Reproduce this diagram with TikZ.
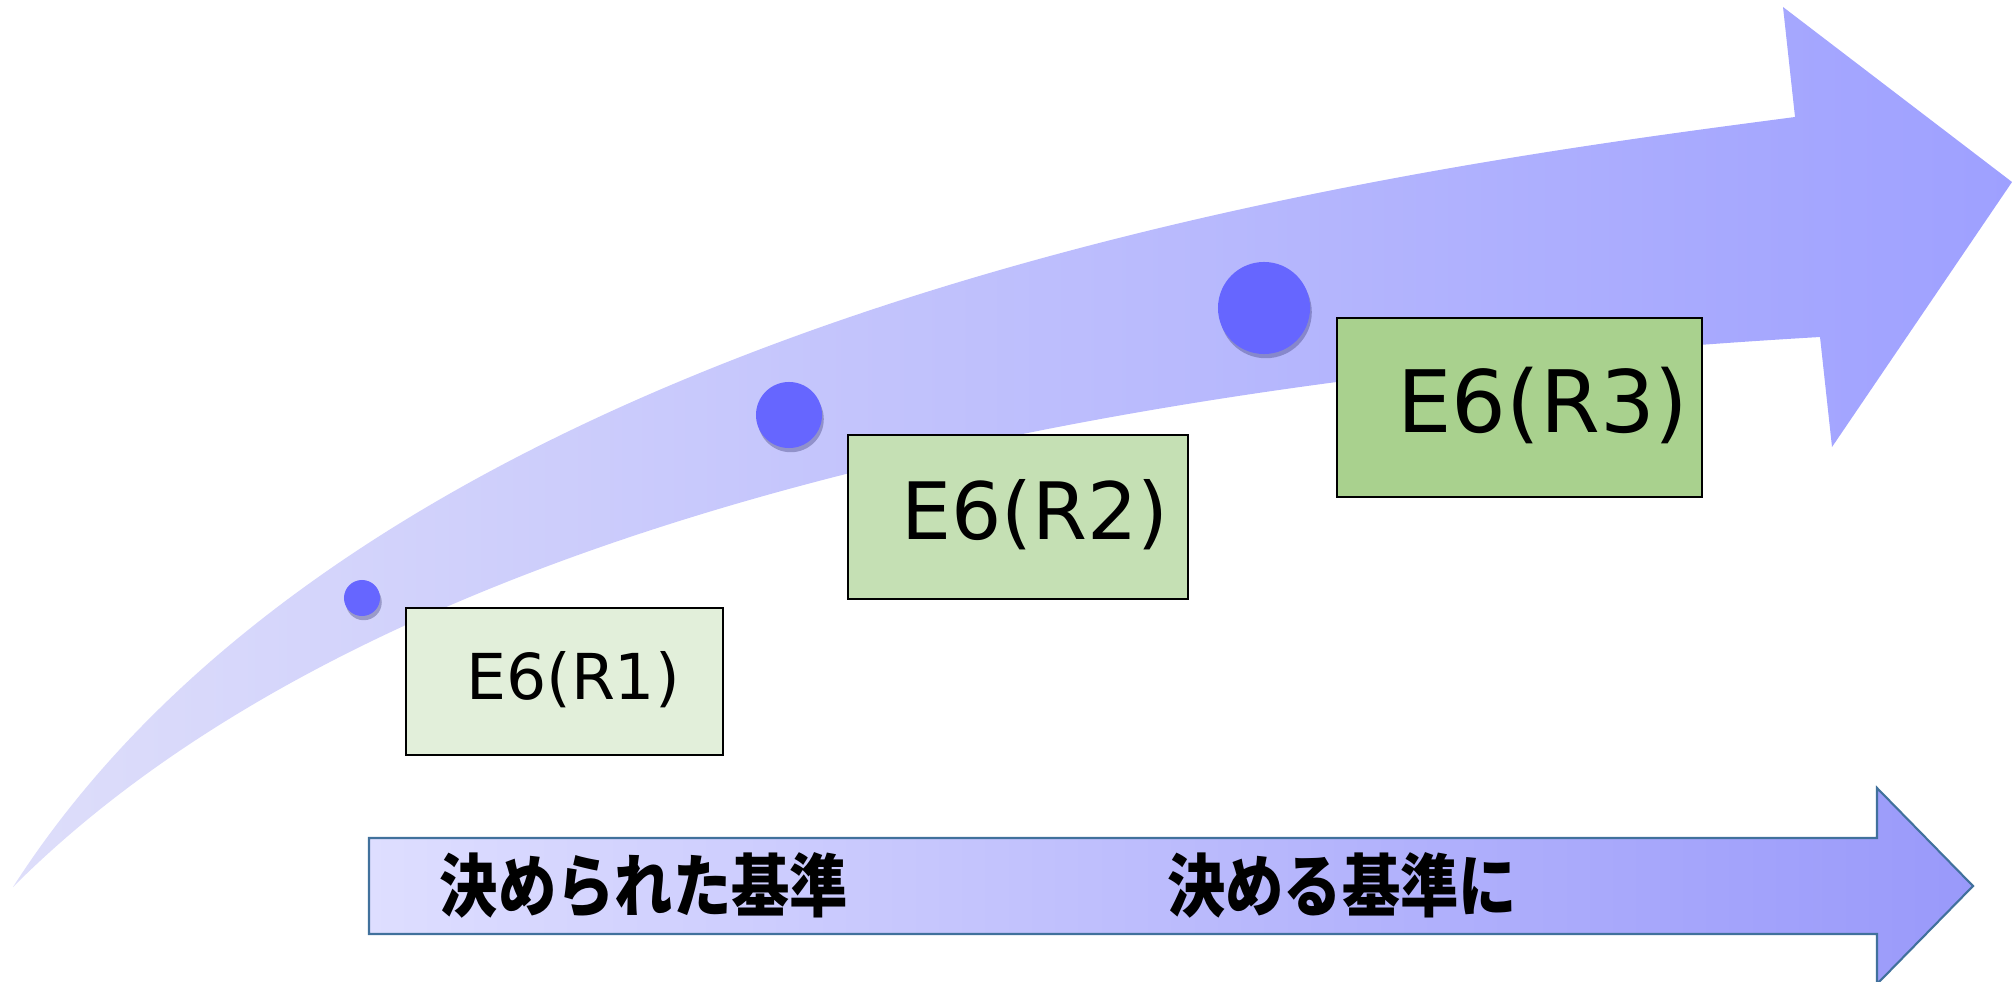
\documentclass[tikz,border=0pt]{standalone}
\usepackage{fontspec}
\newfontfamily\dejavu{DejaVu Sans}
\newfontfamily\cjk{Noto Sans CJK JP}
\usetikzlibrary{shadows}
\definecolor{dotblue}{RGB}{102,102,255}
\definecolor{gA}{RGB}{226,239,218}
\definecolor{gB}{RGB}{197,224,180}
\definecolor{gC}{RGB}{169,209,142}
\definecolor{arrowL}{RGB}{222,222,250}
\definecolor{arrowR}{RGB}{158,160,255}
\definecolor{barL}{RGB}{222,222,255}
\definecolor{barR}{RGB}{153,153,250}
\definecolor{barEdge}{RGB}{65,113,156}
\definecolor{shadowcol}{RGB}{50,50,110}
\begin{document}
\begin{tikzpicture}[x={(0.01cm,0)}, y={(0,-0.01cm)},
  dot/.style={circle, fill=dotblue, inner sep=0pt,
    drop shadow={shadow xshift=0.5pt, shadow yshift=-1.2pt, fill=shadowcol, opacity=0.35}},
  stagebox/.style={draw=black, line width=0.5pt, inner sep=0pt, anchor=north west},
  stagetext/.style={inner sep=0pt, font=\dejavu},
  jptext/.style={inner sep=0pt, font=\cjk\bfseries\fontsize{19.5}{19.5}\selectfont}]
\useasboundingbox (0,0) rectangle (2012,982);

% big curved arrow
\shade[left color=arrowL, right color=arrowR]
  (13,887) .. controls (392,296) and (1416,167) .. (1795,117)
  -- (1783,7) -- (2012,182) -- (1832,447) -- (1820,337)
  .. controls (1220,372) and (413,487) .. (13,887) -- cycle;

% dots
\node[dot, minimum size=0.36cm] (d1) at (362,598) {};
\node[dot, minimum size=0.66cm] (d2) at (789,415) {};
\node[dot, minimum size=0.92cm] (d3) at (1264,308) {};

% stage boxes
\node[stagebox, fill=gA, minimum width=3.17cm, minimum height=1.47cm] (b1) at (405,607) {};
\node[stagebox, fill=gB, minimum width=3.40cm, minimum height=1.64cm] (b2) at (847,434) {};
\node[stagebox, fill=gC, minimum width=3.65cm, minimum height=1.79cm] (b3) at (1336,317) {};
\node[stagetext, font=\dejavu\fontsize{18}{18}\selectfont] (t1) at (573,680) {E6(R1)};
\node[stagetext, font=\dejavu\fontsize{22.5}{22.5}\selectfont] (t2) at (1035,515) {E6(R2)};
\node[stagetext, font=\dejavu\fontsize{24.5}{24.5}\selectfont] (t3) at (1543,405) {E6(R3)};

% bottom arrow
\shade[left color=barL, right color=barR]
  (369,838) -- (1877,838) -- (1877,788) -- (1973,886) -- (1877,984) -- (1877,934) -- (369,934) -- cycle;
\draw[barEdge, line width=0.6pt, line join=miter]
  (369,838) -- (1877,838) -- (1877,788) -- (1973,886) -- (1877,984) -- (1877,934) -- (369,934) -- cycle;
\node[jptext] (j1) at (644,885) {\scalebox{0.85}[1]{決められた基準}};
\node[jptext] (j2) at (1342,885) {\scalebox{0.85}[1]{決める基準に}};
\end{tikzpicture}
\end{document}
